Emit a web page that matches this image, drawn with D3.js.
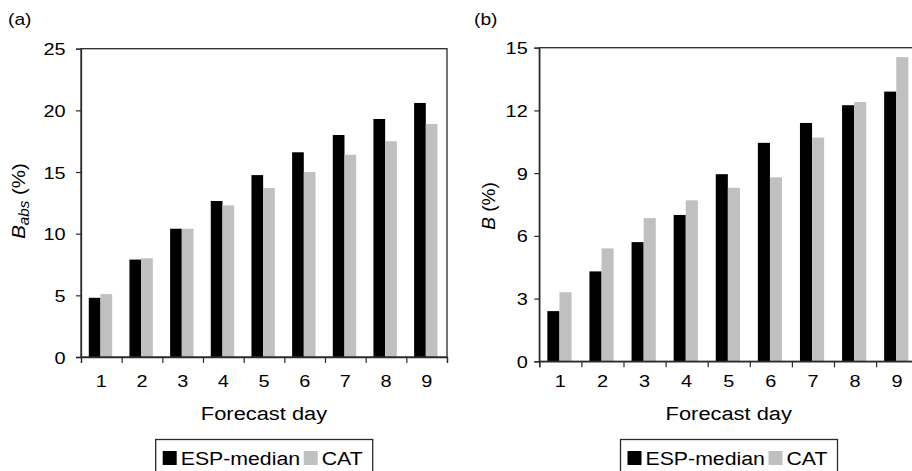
<!DOCTYPE html>
<html>
<head>
<meta charset="utf-8">
<script src="https://cdn.jsdelivr.net/npm/d3@7"></script>
<style>
  html, body { margin: 0; padding: 0; background: #fff; }
  svg { display: block; font-family: "Liberation Sans", Arial, sans-serif; }
</style>
</head>
<body>
<div id="chart"></div>
<script>
// forecast days (categories)
const days = [1, 2, 3, 4, 5, 6, 7, 8, 9];
const seriesNames = ["ESP-median", "CAT"];
const seriesColors = ["#000000", "#c0c0c0"];

// panel (a): B_abs (%)
const espAbs = [4.8, 7.9, 10.4, 12.65, 14.75, 16.6, 18.0, 19.3, 20.6];
const catAbs = [5.1, 8.0, 10.4, 12.3, 13.7, 15.0, 16.4, 17.5, 18.9];
const ticksA = [0, 5, 10, 15, 20, 25];

// panel (b): B (%)
const espB = [2.4, 4.3, 5.7, 7.0, 8.95, 10.45, 11.4, 12.25, 12.9];
const catB = [3.3, 5.4, 6.85, 7.7, 8.3, 8.8, 10.7, 12.4, 14.55];
const ticksB = [0, 3, 6, 9, 12, 15];

const W = 912, H = 471;
const SX = 1.17; // glyphs in the reference are a bit wide

const svg = d3.select("#chart").append("svg")
  .attr("width", W)
  .attr("height", H);

function drawPanel(p) {
  const x = d3.scaleBand().domain(days).range([p.left, p.right]).padding(0);
  const xEdge = d3.scaleLinear().domain([0, days.length]).range([p.left, p.right]);
  const xSub = d3.scaleBand().domain(seriesNames).range([0, x.bandwidth()])
    .paddingInner(0).paddingOuter(0.74).align(0.45);
  const y = d3.scaleLinear().domain([0, d3.max(p.ticks)]).range([p.bottom, p.top]);

  const g = svg.append("g");

  // bars
  const rows = days.map((d, i) => ({ day: d, vals: [p.esp[i], p.cat[i]] }));
  g.selectAll(".day")
    .data(rows)
    .join("g")
    .attr("class", "day")
    .attr("transform", d => `translate(${x(d.day)},0)`)
    .selectAll("rect")
    .data(d => d.vals.map((v, k) => ({ key: seriesNames[k], v, k })))
    .join("rect")
    .attr("x", d => xSub(d.key))
    .attr("y", d => y(d.v))
    .attr("width", xSub.bandwidth())
    .attr("height", d => y(0) - y(d.v))
    .attr("fill", d => seriesColors[d.k]);

  // frame (top + right)
  g.append("rect")
    .attr("x", p.left)
    .attr("y", p.top)
    .attr("width", p.right - p.left)
    .attr("height", p.bottom - p.top)
    .attr("fill", "none")
    .attr("stroke", "#2a2a2a")
    .attr("stroke-width", 1.3);

  // y axis
  const yAxis = g.append("g")
    .attr("transform", `translate(${p.left},0)`)
    .call(d3.axisLeft(y).tickValues(p.ticks).tickSize(5).tickFormat(d3.format("d")));
  yAxis.select(".domain").attr("stroke", "#2a2a2a").attr("stroke-width", 1.3);
  yAxis.selectAll(".tick line").attr("stroke", "#2a2a2a").attr("stroke-width", 1.2);
  yAxis.selectAll(".tick text")
    .attr("font-size", 17)
    .attr("font-family", null)
    .attr("fill", "#000")
    .attr("x", -p.yPad / SX)
    .attr("dy", "0.36em")
    .attr("transform", `scale(${SX},1)`);

  // x axis: ticks at band edges, labels at band centres
  const xTicks = g.append("g")
    .attr("transform", `translate(0,${p.bottom})`)
    .call(d3.axisBottom(xEdge).tickValues(d3.range(days.length + 1)).tickSize(6).tickFormat(""));
  xTicks.select(".domain").attr("stroke", "#2a2a2a").attr("stroke-width", 1.3);
  xTicks.selectAll(".tick line").attr("stroke", "#2a2a2a").attr("stroke-width", 1.2);

  const xLabels = g.append("g")
    .attr("transform", `translate(0,${p.bottom})`)
    .call(d3.axisBottom(x).tickSize(0).tickFormat(d3.format("d")));
  xLabels.select(".domain").remove();
  xLabels.selectAll(".tick text")
    .attr("font-size", 17)
    .attr("font-family", null)
    .attr("fill", "#000")
    .attr("y", 386.7 - p.bottom)
    .attr("dy", 0)
    .attr("transform", `scale(${SX},1)`);

  // x title
  g.append("text")
    .attr("transform", `translate(${(p.left + p.right) / 2},419.5) scale(1.15,1)`)
    .attr("text-anchor", "middle")
    .attr("font-size", 19)
    .text("Forecast day");

  // y title
  const yt = g.append("text")
    .attr("transform", `translate(${p.titleX},${p.titleY}) rotate(-90) scale(${p.titleScale},1)`)
    .attr("text-anchor", "middle")
    .attr("font-size", 19);
  yt.append("tspan").attr("font-style", "italic").text("B");
  if (p.sub) {
    yt.append("tspan").attr("font-style", "italic").attr("font-size", 14)
      .attr("dy", 4).text(p.sub);
    yt.append("tspan").attr("dy", -4).text(" (%)");
  } else {
    yt.append("tspan").text(" (%)");
  }

  // panel letter
  g.append("text")
    .attr("transform", `translate(${p.letterX},25) scale(1.2,1)`)
    .attr("font-size", 16)
    .text(p.letter);

  // legend
  const lg = g.append("g").attr("transform", `translate(${p.legendX},439.5)`);
  lg.append("rect")
    .attr("width", 217).attr("height", 40)
    .attr("fill", "#fff")
    .attr("stroke", "#2a2a2a").attr("stroke-width", 1.3);
  const items = [
    { name: seriesNames[0], color: seriesColors[0], sq: 7, tx: 25 },
    { name: seriesNames[1], color: seriesColors[1], sq: 148, tx: 166 }
  ];
  items.forEach(it => {
    lg.append("rect")
      .attr("x", it.sq).attr("y", 11.5)
      .attr("width", 14).attr("height", 14)
      .attr("fill", it.color);
    lg.append("text")
      .attr("transform", `translate(${it.tx},25.5) scale(1.12,1)`)
      .attr("font-size", 19)
      .text(it.name);
  });
}

drawPanel({
  left: 81, right: 447, top: 48.7, bottom: 357,
  esp: espAbs, cat: catAbs, ticks: ticksA, yPad: 15.5,
  titleX: 25, titleY: 201, titleScale: 1.08, sub: "abs",
  letter: "(a)", letterX: 8, legendX: 155.7
});

drawPanel({
  left: 539.3, right: 539.3 + 42.1 * 9, top: 47.7, bottom: 361.3,
  esp: espB, cat: catB, ticks: ticksB, yPad: 11.6,
  titleX: 495, titleY: 206, titleScale: 1.0, sub: null,
  letter: "(b)", letterX: 474, legendX: 620.5
});
</script>
</body>
</html>
